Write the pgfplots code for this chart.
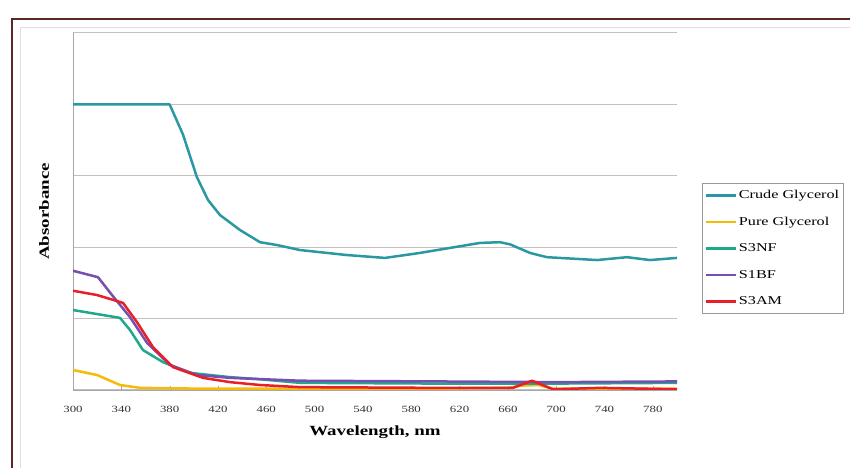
\documentclass[border=0pt]{standalone}
\usepackage{fontspec}
\setmainfont{Liberation Serif}[FakeStretch=1.35]
\usepackage{pgfplots}
\pgfplotsset{compat=1.18}

\definecolor{crude}{RGB}{42,152,162}
\definecolor{pure}{RGB}{246,186,10}
\definecolor{snf}{RGB}{30,168,140}
\definecolor{sbf}{RGB}{120,78,176}
\definecolor{sam}{RGB}{232,30,40}
\definecolor{gridc}{RGB}{200,190,190}
\definecolor{framec}{RGB}{90,40,32}

\begin{document}
\begin{tikzpicture}
  % outer chart frame (only top and left visible)
  \draw[framec, line width=2pt] (12pt,0pt) -- (12pt,449pt) -- (850pt,449pt);
  \draw[gray!25, line width=0.6pt] (20pt,0pt) -- (20pt,441pt) -- (850pt,441pt);

  \begin{axis}[
    at={(73pt,78pt)}, anchor=south west,
    scale only axis,
    width=604pt, height=357pt,
    xmin=300, xmax=800,
    ymin=0, ymax=5,
    axis x line=bottom, axis y line=left,
    axis line style={gray!70, line width=0.8pt, -},
    xtick={300,340,...,780},
    ytick={0,1,2,3,4,5},
    yticklabels={},
    ymajorgrids,
    grid style={gridc, line width=1pt},
    major tick length=4pt,
    xtick align=inside,
    ytick style={draw=none},
    xtick style={gray!70},
    xticklabel style={font=\fontsize{9.5}{10}\selectfont, text=black!80, anchor=center, yshift=-19pt},
    /pgf/number format/assume math mode=true,
    /pgf/number format/set thousands separator={},
    xlabel={\textbf{Wavelength, nm}},
    ylabel={\textbf{Absorbance}},
    label style={font=\fontsize{14}{15}\selectfont},
    xlabel style={at={(axis description cs:0.5,-0.118)}, anchor=center},
    ylabel style={at={(axis description cs:-0.048,0.5)}, anchor=center},
    legend cell align=left,
    legend style={
      at={(axis description cs:1.0414,0.58)}, anchor=north west,
      draw=gray!80, fill=white, line width=0.8pt,
      font=\fontsize{12}{13}\selectfont,
      inner xsep=2pt, inner ysep=5pt,
      row sep=13pt,
    },
    legend image code/.code={\draw[#1] (0pt,0pt) -- (30pt,0pt);},
    every axis plot/.append style={line width=2.5pt, line join=round},
  ]
    \addplot[crude] coordinates {
      (300,4.00) (340,4.00) (380,4.00) (391,3.58) (402.6,2.98) (411.8,2.66)
      (421.7,2.45) (438.3,2.24) (454.8,2.07) (468.9,2.03) (488,1.96)
      (526.8,1.89) (558.3,1.85) (587.3,1.92) (612.1,1.99) (636.9,2.06)
      (653.5,2.07) (661.8,2.04) (678.3,1.92) (692.4,1.86) (733.8,1.82)
      (758.6,1.86) (777.6,1.82) (800,1.85)
    };
    \addlegendentry{Crude Glycerol}
    \addplot[pure] coordinates {
      (300,0.28) (319.9,0.21) (338.9,0.07) (355.5,0.03) (400,0.02)
      (500,0.02) (600,0.02) (660,0.03) (670,0.06) (685,0.07) (697,0.02)
      (750,0.02) (800,0.02)
    };
    \addlegendentry{Pure Glycerol}
    \addplot[snf] coordinates {
      (300,1.12) (338.9,1.01) (347.2,0.84) (357.9,0.56) (374.5,0.39)
      (396.9,0.24) (430,0.18) (454.8,0.15) (488,0.10) (600,0.09)
      (700,0.09) (800,0.10)
    };
    \addlegendentry{S3NF}
    \addplot[sbf] coordinates {
      (300,1.67) (320.7,1.58) (332.3,1.33) (347.2,1.02) (361.3,0.66)
      (380.3,0.35) (402.6,0.21) (430,0.17) (488,0.13) (600,0.12)
      (700,0.11) (800,0.12)
    };
    \addlegendentry{S1BF}
    \addplot[sam] coordinates {
      (300,1.39) (319.9,1.33) (341.4,1.22) (353,0.95) (366.2,0.60)
      (382.8,0.32) (407.6,0.17) (430,0.11) (454.8,0.07) (488,0.04)
      (600,0.03) (664.2,0.03) (680,0.13) (697.4,0.01) (736.3,0.03)
      (800,0.01)
    };
    \addlegendentry{S3AM}
  \end{axis}
  \pgfresetboundingbox
  \useasboundingbox (0pt,0pt) rectangle (850pt,468pt);
\end{tikzpicture}
\end{document}
